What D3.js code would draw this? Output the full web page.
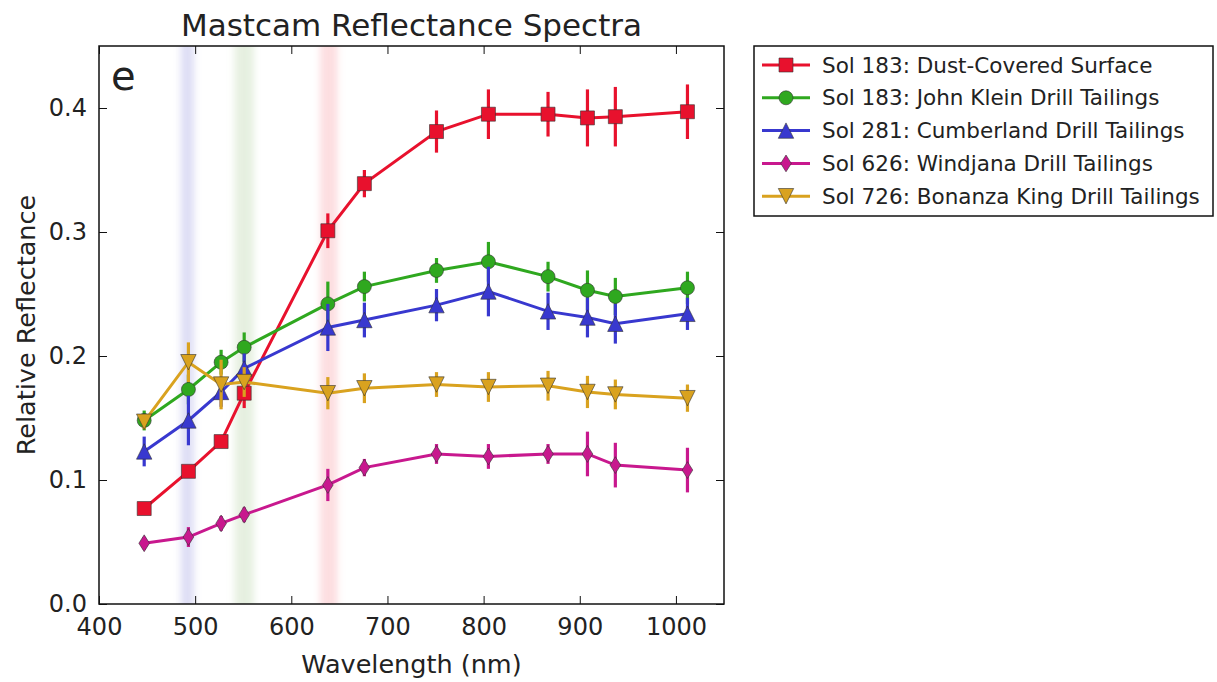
<!DOCTYPE html>
<html>
<head>
<meta charset="utf-8">
<script src="https://cdn.jsdelivr.net/npm/d3@7"></script>
<style>
  body { margin: 0; background: #fff; }
  text { font-family: "DejaVu Sans", sans-serif; fill: #222; }
</style>
</head>
<body>
<svg id="chart" width="1217" height="682"></svg>
<script>
// filter wavelengths (nm)
var wavelengths = [447, 493, 527, 551, 638, 676, 751, 805, 867, 908, 937, 1012];

var names = [
  "Sol 183: Dust-Covered Surface",
  "Sol 183: John Klein Drill Tailings",
  "Sol 281: Cumberland Drill Tailings",
  "Sol 626: Windjana Drill Tailings",
  "Sol 726: Bonanza King Drill Tailings"
];

var dustValues   = [0.077, 0.107, 0.131, 0.170, 0.301, 0.339, 0.381, 0.395, 0.395, 0.392, 0.393, 0.397];
var dustErrors   = [0.004, 0.005, 0.005, 0.012, 0.014, 0.011, 0.017, 0.020, 0.018, 0.023, 0.024, 0.022];
var kleinValues  = [0.148, 0.173, 0.195, 0.207, 0.242, 0.256, 0.269, 0.276, 0.264, 0.253, 0.248, 0.255];
var kleinErrors  = [0.008, 0.012, 0.010, 0.012, 0.018, 0.012, 0.010, 0.016, 0.012, 0.016, 0.015, 0.013];
var cumbValues   = [0.123, 0.148, 0.171, 0.190, 0.223, 0.229, 0.241, 0.252, 0.236, 0.231, 0.226, 0.234];
var cumbErrors   = [0.012, 0.020, 0.012, 0.012, 0.019, 0.014, 0.013, 0.020, 0.015, 0.016, 0.016, 0.013];
var windValues   = [0.049, 0.054, 0.065, 0.072, 0.096, 0.110, 0.121, 0.119, 0.121, 0.121, 0.112, 0.108];
var windErrors   = [0.005, 0.008, 0.006, 0.006, 0.013, 0.007, 0.008, 0.010, 0.008, 0.018, 0.018, 0.018];
var bonanzaValues = [0.147, 0.195, 0.177, 0.179, 0.170, 0.174, 0.177, 0.175, 0.176, 0.171, 0.169, 0.166];
var bonanzaErrors = [0.006, 0.016, 0.020, 0.012, 0.013, 0.012, 0.010, 0.012, 0.012, 0.013, 0.012, 0.011];

var seriesColors = ["#e8112d", "#2fa81f", "#3838cf", "#c8188e", "#d9a21f"];
var seriesSymbols = ["square", "circle", "triangleUp", "diamond", "triangleDown"];

// shaded RGB bands (nm)
var bandRanges = [[485, 499], [541, 561], [630, 648]];
var bandColors = ["#c8c8ee", "#d6e6cc", "#fbc8cc"];

var xTicks = [400, 500, 600, 700, 800, 900, 1000];
var yTicks = [0.0, 0.1, 0.2, 0.3, 0.4];

var series = [
  { name: names[0], values: dustValues, errors: dustErrors },
  { name: names[1], values: kleinValues, errors: kleinErrors },
  { name: names[2], values: cumbValues, errors: cumbErrors },
  { name: names[3], values: windValues, errors: windErrors },
  { name: names[4], values: bonanzaValues, errors: bonanzaErrors }
];

var svg = d3.select("#chart");
var plotL = 99, plotT = 46, plotR = 724, plotB = 604;

var x = d3.scaleLinear().domain([400, 1050]).range([plotL, plotR]);
var y = d3.scaleLinear().domain([0, 0.45]).range([plotB, plotT]);

// soft edges for the bands
var defs = svg.append("defs");
defs.append("filter").attr("id", "soft")
  .attr("x", "-80%").attr("width", "260%")
  .append("feGaussianBlur").attr("stdDeviation", "3.5 0");

svg.append("g").selectAll("rect")
  .data(bandRanges)
  .join("rect")
  .attr("x", d => x(d[0]))
  .attr("width", d => x(d[1]) - x(d[0]))
  .attr("y", plotT)
  .attr("height", plotB - plotT)
  .attr("fill", (d, i) => bandColors[i])
  .attr("opacity", 0.6)
  .attr("filter", "url(#soft)");

function symbolPath(kind, s) {
  if (kind === "square") return d3.symbol(d3.symbolSquare, s * s)();
  if (kind === "circle") return d3.symbol(d3.symbolCircle, Math.PI * s * s / 4)();
  if (kind === "triangleUp") {
    var h = s * 0.55;
    return "M0," + (-h) + "L" + h + "," + h + "L" + (-h) + "," + h + "Z";
  }
  if (kind === "triangleDown") {
    var h2 = s * 0.55;
    return "M0," + h2 + "L" + h2 + "," + (-h2) + "L" + (-h2) + "," + (-h2) + "Z";
  }
  // thin diamond
  var w = s * 0.38, v = s * 0.6;
  return "M0," + (-v) + "L" + w + ",0L0," + v + "L" + (-w) + ",0Z";
}

var line = d3.line()
  .x(d => x(d[0]))
  .y(d => y(d[1]));

series.forEach(function(s, i) {
  var g = svg.append("g");
  var pts = wavelengths.map((w, j) => [w, s.values[j], s.errors[j]]);
  g.selectAll("line.err")
    .data(pts)
    .join("line")
    .attr("x1", d => x(d[0])).attr("x2", d => x(d[0]))
    .attr("y1", d => y(d[1] - d[2])).attr("y2", d => y(d[1] + d[2]))
    .attr("stroke", seriesColors[i])
    .attr("stroke-width", 3.2);
  g.append("path")
    .datum(pts)
    .attr("d", line)
    .attr("fill", "none")
    .attr("stroke", seriesColors[i])
    .attr("stroke-width", 3);
  g.selectAll("path.mk")
    .data(pts)
    .join("path")
    .attr("transform", d => "translate(" + x(d[0]) + "," + y(d[1]) + ")")
    .attr("d", symbolPath(seriesSymbols[i], 14))
    .attr("fill", seriesColors[i])
    .attr("stroke", "#333")
    .attr("stroke-width", 0.6);
});

// frame and inward ticks on all sides
svg.append("rect")
  .attr("x", plotL).attr("y", plotT)
  .attr("width", plotR - plotL).attr("height", plotB - plotT)
  .attr("fill", "none").attr("stroke", "#111").attr("stroke-width", 1.5);

var tickLen = 8;
svg.append("g").attr("transform", "translate(0," + plotB + ")")
  .call(d3.axisBottom(x).tickValues(xTicks).tickSize(-tickLen).tickPadding(14).tickFormat(d3.format("d")))
  .call(g => g.select(".domain").remove())
  .call(g => g.selectAll("line").attr("stroke", "#111"))
  .call(g => g.selectAll("text").attr("font-size", 24).attr("font-family", "DejaVu Sans").attr("fill", "#222"));
svg.append("g").attr("transform", "translate(0," + plotT + ")")
  .call(d3.axisTop(x).tickValues(xTicks).tickSize(-tickLen).tickFormat(""))
  .call(g => g.select(".domain").remove())
  .call(g => g.selectAll("line").attr("stroke", "#111"));
svg.append("g").attr("transform", "translate(" + plotL + ",0)")
  .call(d3.axisLeft(y).tickValues(yTicks).tickSize(-tickLen).tickPadding(12).tickFormat(d3.format(".1f")))
  .call(g => g.select(".domain").remove())
  .call(g => g.selectAll("line").attr("stroke", "#111"))
  .call(g => g.selectAll("text").attr("font-size", 24).attr("font-family", "DejaVu Sans").attr("fill", "#222"));
svg.append("g").attr("transform", "translate(" + plotR + ",0)")
  .call(d3.axisRight(y).tickValues(yTicks).tickSize(-tickLen).tickFormat(""))
  .call(g => g.select(".domain").remove())
  .call(g => g.selectAll("line").attr("stroke", "#111"));

// titles
svg.append("text")
  .attr("x", (plotL + plotR) / 2).attr("y", 36)
  .attr("text-anchor", "middle").attr("font-size", 31)
  .text("Mastcam Reflectance Spectra");
svg.append("text")
  .attr("x", (plotL + plotR) / 2).attr("y", 673)
  .attr("text-anchor", "middle").attr("font-size", 25.5)
  .text("Wavelength (nm)");
svg.append("text")
  .attr("transform", "translate(35," + ((plotT + plotB) / 2) + ") rotate(-90)")
  .attr("text-anchor", "middle").attr("font-size", 25.5)
  .text("Relative Reflectance");
svg.append("text")
  .attr("x", 111).attr("y", 90)
  .attr("font-size", 40)
  .text("e");

// legend
var lg = svg.append("g");
lg.append("rect")
  .attr("x", 754).attr("y", 46).attr("width", 459).attr("height", 170)
  .attr("fill", "#fff").attr("stroke", "#111").attr("stroke-width", 1.5);
series.forEach(function(s, i) {
  var ly = 65 + i * 32.8;
  lg.append("line")
    .attr("x1", 762).attr("x2", 810).attr("y1", ly).attr("y2", ly)
    .attr("stroke", seriesColors[i]).attr("stroke-width", 3);
  lg.append("path")
    .attr("transform", "translate(786," + ly + ")")
    .attr("d", symbolPath(seriesSymbols[i], 14))
    .attr("fill", seriesColors[i]).attr("stroke", "#333").attr("stroke-width", 0.6);
  lg.append("text")
    .attr("x", 822).attr("y", ly + 7.5)
    .attr("font-size", 21.5)
    .text(s.name);
});
</script>
</body>
</html>
